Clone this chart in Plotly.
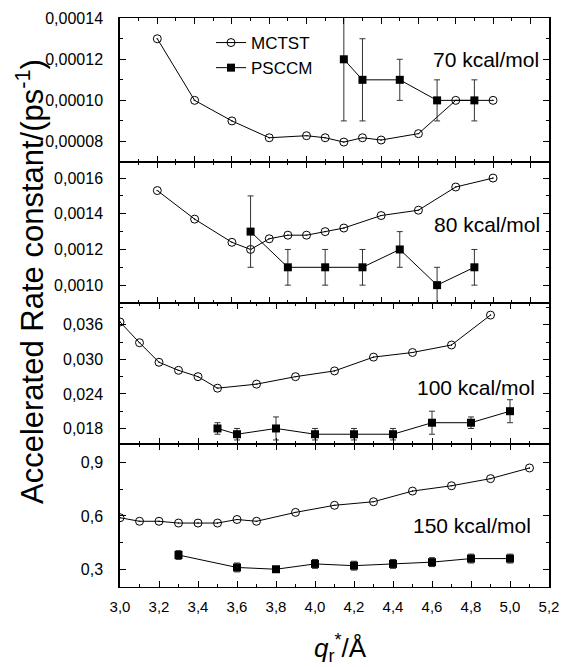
import plotly.graph_objects as go

# ---------------- data ----------------
# 70 kcal/mol
x70_m = [3.2, 3.4, 3.6, 3.8, 4.0, 4.1, 4.2, 4.3, 4.4, 4.6, 4.8, 5.0]
y70_m = [0.00013, 0.00010, 0.000090, 0.0000818, 0.0000828, 0.0000818, 0.0000797,
         0.0000818, 0.0000807, 0.0000838, 0.00010, 0.00010]
x70_p = [4.2, 4.3, 4.5, 4.7, 4.9]
y70_p = [0.00012, 0.00011, 0.00011, 0.00010, 0.00010]
e70_p = [0.00003, 0.00002, 0.00001, 0.00001, 0.00001]

# 80 kcal/mol
x80_m = [3.2, 3.4, 3.6, 3.7, 3.8, 3.9, 4.0, 4.1, 4.2, 4.4, 4.6, 4.8, 5.0]
y80_m = [0.00153, 0.00137, 0.00124, 0.00120, 0.00126, 0.00128, 0.00128, 0.00130,
         0.00132, 0.00139, 0.00142, 0.00155, 0.00160]
x80_p = [3.7, 3.9, 4.1, 4.3, 4.5, 4.7, 4.9]
y80_p = [0.0013, 0.0011, 0.0011, 0.0011, 0.0012, 0.0010, 0.0011]
e80_p = [0.0002, 0.0001, 0.0001, 0.0001, 0.0001, 0.0001, 0.0001]

# 100 kcal/mol
x100_m = [3.0, 3.1, 3.2, 3.3, 3.4, 3.5, 3.7, 3.9, 4.1, 4.3, 4.5, 4.7, 4.9]
y100_m = [0.0365, 0.0329, 0.0295, 0.0281, 0.0270, 0.0250, 0.0257, 0.0270, 0.0280,
          0.0304, 0.0312, 0.0325, 0.0377]
x100_p = [3.5, 3.6, 3.8, 4.0, 4.2, 4.4, 4.6, 4.8, 5.0]
y100_p = [0.018, 0.017, 0.018, 0.017, 0.017, 0.017, 0.019, 0.019, 0.021]
e100_p = [0.001, 0.001, 0.002, 0.001, 0.001, 0.001, 0.002, 0.001, 0.002]

# 150 kcal/mol
x150_m = [3.0, 3.1, 3.2, 3.3, 3.4, 3.5, 3.6, 3.7, 3.9, 4.1, 4.3, 4.5, 4.7, 4.9, 5.1]
y150_m = [0.59, 0.57, 0.57, 0.56, 0.56, 0.56, 0.58, 0.57, 0.62, 0.66, 0.68, 0.74,
          0.77, 0.81, 0.87]
x150_p = [3.3, 3.6, 3.8, 4.0, 4.2, 4.4, 4.6, 4.8, 5.0]
y150_p = [0.38, 0.31, 0.30, 0.33, 0.32, 0.33, 0.34, 0.36, 0.36]
e150_p = [0.025, 0.025, 0.015, 0.025, 0.025, 0.025, 0.025, 0.025, 0.025]

panel_labels = ["70 kcal/mol", "80 kcal/mol", "100 kcal/mol", "150 kcal/mol"]
series_names = ["MCTST", "PSCCM"]

x_tickvals = [3.0, 3.2, 3.4, 3.6, 3.8, 4.0, 4.2, 4.4, 4.6, 4.8, 5.0, 5.2]
x_ticktext = ["3,0", "3,2", "3,4", "3,6", "3,8", "4,0", "4,2", "4,4", "4,6", "4,8", "5,0", "5,2"]

y70_ticks = [0.00008, 0.00010, 0.00012, 0.00014]
y70_text = ["0,00008", "0,00010", "0,00012", "0,00014"]
y80_ticks = [0.0010, 0.0012, 0.0014, 0.0016]
y80_text = ["0,0010", "0,0012", "0,0014", "0,0016"]
y100_ticks = [0.018, 0.024, 0.030, 0.036]
y100_text = ["0,018", "0,024", "0,030", "0,036"]
y150_ticks = [0.3, 0.6, 0.9]
y150_text = ["0,3", "0,6", "0,9"]

# ---------------- figure ----------------
FONT = "Liberation Sans, Arial, sans-serif"
W, H = 563, 667
ML, MR, MT, MB = 120, 14, 18, 80

fig = go.Figure()

panels = [
    (x70_m, y70_m, x70_p, y70_p, e70_p),
    (x80_m, y80_m, x80_p, y80_p, e80_p),
    (x100_m, y100_m, x100_p, y100_p, e100_p),
    (x150_m, y150_m, x150_p, y150_p, e150_p),
]

for i, (xm, ym, xp, yp, ep) in enumerate(panels):
    ax = "" if i == 0 else str(i + 1)
    fig.add_trace(go.Scatter(
        x=xm, y=ym, mode="lines+markers", name=series_names[0],
        showlegend=(i == 0), xaxis="x" + ax, yaxis="y" + ax,
        line=dict(color="black", width=1),
        marker=dict(symbol="circle-open-dot", size=8, color="black",
                    line=dict(color="black", width=1)),
    ))
    fig.add_trace(go.Scatter(
        x=xp, y=yp, mode="lines+markers", name=series_names[1],
        showlegend=(i == 0), xaxis="x" + ax, yaxis="y" + ax,
        line=dict(color="black", width=1),
        marker=dict(symbol="square", size=8, color="black"),
        error_y=dict(type="data", array=ep, visible=True, color="#333333",
                     thickness=1, width=3),
    ))

plot_h = H - MT - MB
plot_w = W - ML - MR
bounds_px = [18, 162, 303, 444, 587]
domains = []
for k in range(4):
    top = 1 - (bounds_px[k] - MT) / plot_h
    bot = 1 - (bounds_px[k + 1] - MT) / plot_h
    domains.append([max(bot, 0), min(top, 1)])

x_ranges = [[3.0, 5.3], [3.0, 5.3], [3.0, 5.2], [3.0, 5.2]]
y_ranges = [[0.00007, 0.0001401], [0.0009, 0.00169], [0.0153, 0.0398], [0.2, 1.005]]
y_tv = [y70_ticks, y80_ticks, y100_ticks, y150_ticks]
y_tt = [y70_text, y80_text, y100_text, y150_text]
y_minor = [0.00001, 0.0001, 0.003, 0.15]

layout_axes = {}
for i in range(4):
    ax = "" if i == 0 else str(i + 1)
    layout_axes["xaxis" + ax] = dict(
        domain=[0, 1], anchor="y" + ax, range=x_ranges[i],
        tickvals=x_tickvals, ticktext=x_ticktext,
        showticklabels=(i == 3), ticks="inside", ticklen=6, tickwidth=1,
        tickcolor="black", showline=True, linecolor="black", linewidth=1,
        mirror="allticks", showgrid=False, zeroline=False, automargin=False,
        minor=dict(ticks="inside", ticklen=3, dtick=0.1, tick0=3.0,
                   tickcolor="black", tickwidth=1, showgrid=False),
        tickfont=dict(family=FONT, size=15, color="black"),
        ticklabelstandoff=6,
    )
    layout_axes["yaxis" + ax] = dict(
        domain=domains[i], anchor="x" + ax, range=y_ranges[i],
        tickvals=y_tv[i], ticktext=y_tt[i],
        ticks="inside", ticklen=6, tickwidth=1, tickcolor="black",
        showline=True, linecolor="black", linewidth=1.5, mirror="allticks",
        showgrid=False, zeroline=False, automargin=False,
        minor=dict(ticks="inside", ticklen=3, dtick=y_minor[i], tick0=y_tv[i][0],
                   tickcolor="black", tickwidth=1, showgrid=False),
        tickfont=dict(family=FONT, size=16, color="black"),
        ticklabelstandoff=12,
    )

annotations = []
label_y_px = [59, 224, 387, 525]
label_right_px = [541, 542, 537, 533]
for i in range(4):
    annotations.append(dict(
        text=panel_labels[i], xref="paper", yref="paper",
        x=(label_right_px[i] - ML) / plot_w,
        y=1 - (label_y_px[i] - MT) / plot_h,
        xanchor="right", yanchor="middle", showarrow=False,
        font=dict(family=FONT, size=21, color="black"),
    ))

annotations.append(dict(
    text="Accelerated Rate constant/(ps<sup>-1</sup>)", textangle=-90,
    xref="paper", yref="paper",
    x=(30 - ML) / plot_w, y=1 - (282 - MT) / plot_h,
    xanchor="center", yanchor="middle", showarrow=False,
    font=dict(family=FONT, size=31, color="black"),
))
annotations.append(dict(
    text="<i>q</i><sub>r</sub><sup>*</sup>/Å",
    xref="paper", yref="paper",
    x=(340 - ML) / plot_w, y=1 - (648 - MT) / plot_h,
    xanchor="center", yanchor="middle", showarrow=False,
    font=dict(family=FONT, size=26, color="black"),
))

fig.update_layout(
    width=W, height=H, autosize=False,
    margin=dict(l=ML, r=MR, t=MT, b=MB, pad=0, autoexpand=False),
    paper_bgcolor="white", plot_bgcolor="white",
    showlegend=True,
    legend=dict(x=(211 - ML) / plot_w, y=1 - (25 - MT) / plot_h,
                xanchor="left", yanchor="top", bgcolor="rgba(0,0,0,0)",
                font=dict(family=FONT, size=17, color="black"),
                tracegroupgap=0, itemwidth=30),
    annotations=annotations,
    font=dict(family=FONT, color="black"),
    **layout_axes,
)

fig.write_html("out.html", config={"displayModeBar": False, "responsive": False},
               post_script="document.body.style.margin='0';document.body.style.overflow='hidden';")
